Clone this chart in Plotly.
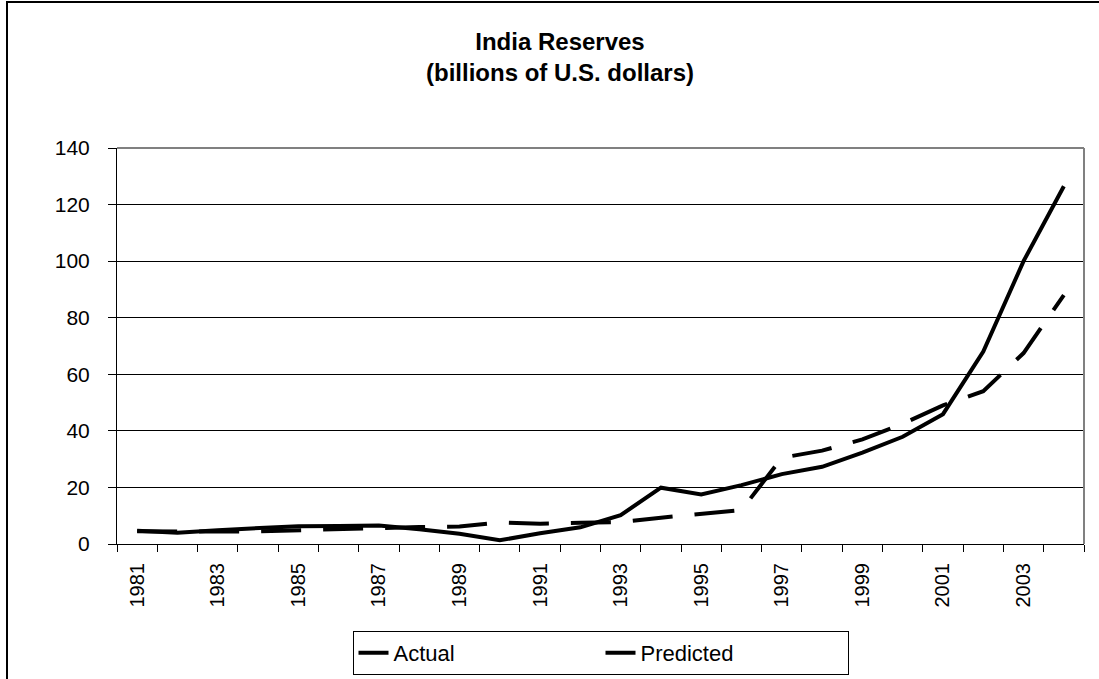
import plotly.graph_objects as go

years = list(range(1981, 2005))
actual = [4.7, 4.0, 4.9, 5.5, 6.3, 6.4, 6.5, 5.2, 3.6, 1.3, 3.8, 5.9, 10.2, 19.9, 17.5,
          20.8, 24.7, 27.3, 32.3, 37.9, 45.9, 68.0, 100.0, 126.5]
predicted = [4.5, 4.3, 4.4, 4.5, 4.8, 5.0, 5.6, 6.0, 6.2, 7.6, 7.2, 7.5, 7.8, 9.3, 10.8,
             12.0, 30.5, 33.0, 37.0, 42.5, 49.0, 54.0, 67.5, 88.0]
tick_years = list(range(1981, 2005, 2))
y_ticks = [0, 20, 40, 60, 80, 100, 120, 140]

FONT = "Liberation Sans, Arial, sans-serif"

fig = go.Figure()
fig.add_trace(go.Scatter(x=years, y=actual, mode="lines", name="Actual",
                         line=dict(color="black", width=4)))
fig.add_trace(go.Scatter(x=years, y=predicted, mode="lines", name="Predicted",
                         line=dict(color="black", width=4, dash="40px,22px")))

fig.update_layout(
    width=1099, height=679, autosize=False,
    margin=dict(l=117, r=15, t=148, b=135),
    paper_bgcolor="white", plot_bgcolor="white",
    font=dict(family=FONT, size=20, color="black"),
    title=dict(text="<b>India Reserves<br>(billions of U.S. dollars)</b>",
               x=560 / 1099, xanchor="center", xref="container",
               y=1 - 50 / 679, yanchor="top",
               font=dict(family=FONT, size=24, color="black")),
    showlegend=True,
    legend=dict(orientation="h", x=0.5, xanchor="center", xref="paper",
                y=1 - 653 / 679, yanchor="middle", yref="container",
                bordercolor="black", borderwidth=1, entrywidth=202,
                font=dict(family=FONT, size=22, color="black")),
)

fig.update_xaxes(
    range=[1980.5, 2004.5], tickmode="array", tickvals=tick_years,
    ticktext=[str(y) for y in tick_years], tickangle=-90,
    ticks="", ticklen=0, showgrid=False, zeroline=False,
    showline=True, linecolor="black", linewidth=1, ticklabelstandoff=10,
    minor=dict(tick0=1980.5, dtick=1, ticks="outside", ticklen=7, tickcolor="black", showgrid=False),
    tickfont=dict(family=FONT, size=20),
)
fig.update_yaxes(
    range=[0, 140], tickvals=y_ticks, ticks="outside", ticklen=8, tickcolor="black",
    showgrid=True, gridcolor="black", gridwidth=1, zeroline=False,
    showline=True, linecolor="black", linewidth=1, ticklabelstandoff=14,
    tickfont=dict(family=FONT, size=21),
)

# plot area border (gray, top and right) and outer chart frame
fig.add_shape(type="line", xref="paper", yref="paper", x0=0, x1=1, y0=1, y1=1,
              line=dict(color="#808080", width=2), layer="above")
fig.add_shape(type="line", xref="paper", yref="paper", x0=1, x1=1, y0=0, y1=1,
              line=dict(color="#808080", width=2), layer="above")
fig.add_shape(type="rect", xref="paper", yref="paper",
              x0=(7 - 117) / 967, x1=(1110 - 117) / 967,
              y0=(544 - 690) / 396, y1=(544 - 2) / 396,
              line=dict(color="black", width=2), layer="below")

fig.write_html("out.html", config={"displayModeBar": False},
               post_script="document.body.style.margin='0';")
